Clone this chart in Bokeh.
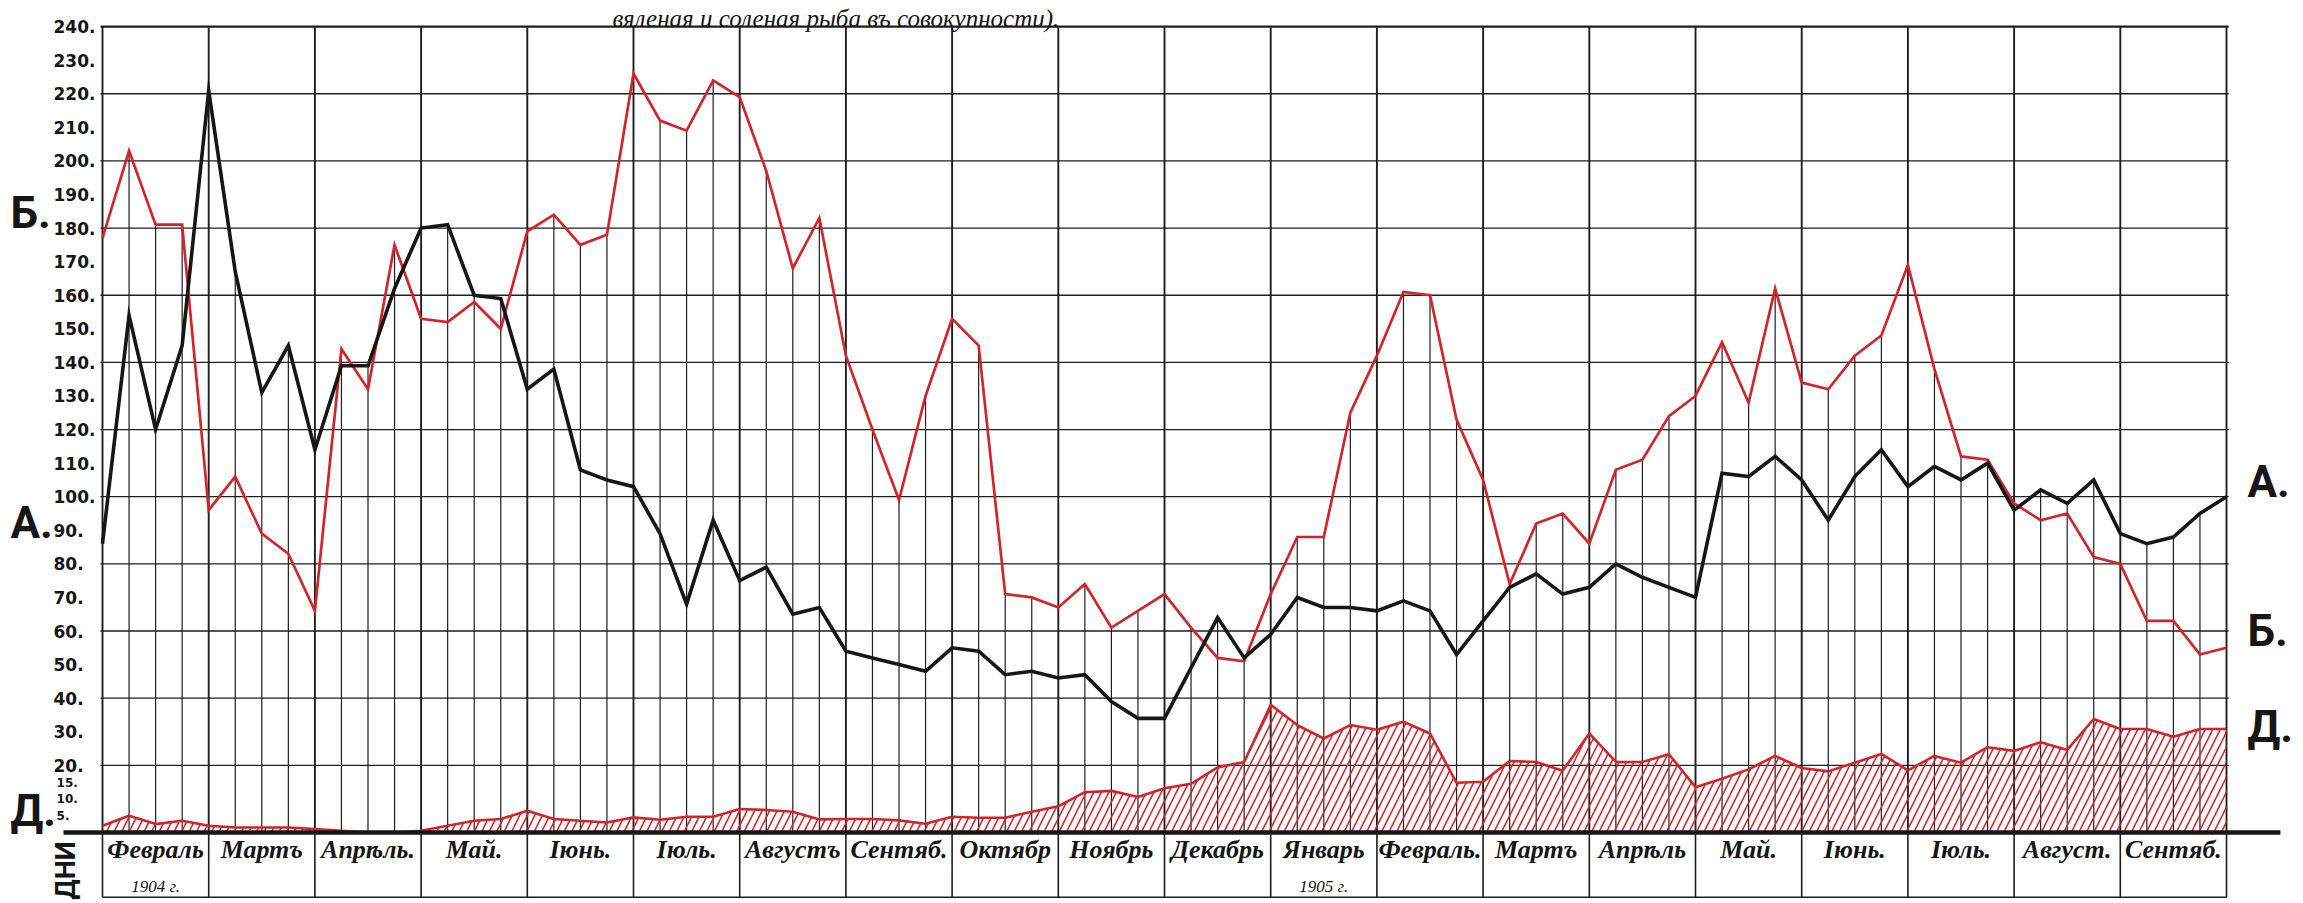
from bokeh.plotting import figure
from bokeh.models import Range1d
from bokeh.core.properties import value
from bokeh.embed import file_html
from bokeh.resources import INLINE

# ---------------- data ----------------
weeks = list(range(81))  # weekly observations, Feb 1904 .. Sep 1905

series_a = [86, 154, 120, 145, 221, 167, 131, 145, 114, 139,
            139, 162, 180, 181, 160, 159, 132, 138, 108, 105,
            103, 89, 68, 93, 75, 79, 65, 67, 54, 52,
            50, 48, 55, 54, 47, 48, 46, 47, 39, 34,
            34, 49, 64, 52, 59, 70, 67, 67, 66, 69,
            66, 53, 63, 73, 77, 71, 73, 80, 76, 73,
            70, 107, 106, 112, 105, 93, 106, 114, 103, 109,
            105, 110, 96, 102, 98, 105, 89, 86, 88, 95,
            100]

series_b = [177, 203, 181, 181, 96, 106, 89, 83, 66, 144,
            132, 175, 153, 152, 158, 150, 179, 184, 175, 178,
            226, 212, 209, 224, 219, 197, 168, 183, 142, 120,
            99, 130, 153, 145, 71, 70, 67, 74, 61, 66,
            71, 61, 52, 51, 71, 88, 88, 125, 142, 161,
            160, 123, 105, 74, 92, 95, 86, 108, 111, 124,
            130, 146, 128, 162, 134, 132, 142, 148, 169, 138,
            112, 111, 98, 93, 95, 82, 80, 63, 63, 53,
            55]

series_d = [2, 5, 2.5, 3.5, 2, 1.5, 1.5, 1.5, 1, 0.5,
            0, 0, 0.5, 2, 3.5, 4, 6.5, 4, 3.5, 3,
            4.5, 3.8, 4.7, 4.7, 7, 6.7, 6.2, 3.9, 4, 4,
            3.6, 2.6, 4.7, 4.4, 4.4, 6.2, 7.8, 12, 12.4, 10.6,
            13.2, 14.5, 19.4, 21, 38, 32, 28, 32, 30.6, 33,
            29.5, 14.8, 15.1, 21.3, 21, 18.4, 29.5, 21, 21, 23.3,
            13.5, 16, 18.8, 22.8, 19.2, 18.2, 20.8, 23.4, 18.5, 22.8,
            20.8, 25.4, 24.3, 26.9, 24.6, 33.8, 30.8, 30.8, 28.5, 30.8,
            30.8]

months = ["Февраль", "Мартъ", "Апрѣль.", "Май.", "Іюнь.", "Іюль.", "Августъ",
          "Сентяб.", "Октябр", "Ноябрь", "Декабрь", "Январь", "Февраль.",
          "Мартъ", "Апрѣль", "Май.", "Іюнь.", "Іюль.", "Август.", "Сентяб."]
year_labels = ["1904 г.", "1905 г."]
year_month_idx = [0, 11]

grid_values = [20, 40, 60, 80, 100, 120, 140, 160, 180, 200, 220]
top_value = 240
tick_values = [240, 230, 220, 210, 200, 190, 180, 170, 160, 150, 140, 130,
               120, 110, 100, 90, 80, 70, 60, 50, 40, 30, 20]
small_tick_values = [15, 10, 5]

series_names = ["А.", "Б.", "Д."]
title_text = "вяленая  и  соленая  рыба  въ  совокупности)."

# ---------------- styling ----------------
RED = "#d0262b"
BLACK = "#161616"
GRID = "#1e1e1e"
W, H = 2303, 903
WEEKS_PER_MONTH = 4
BOX_BOTTOM = -19.3

p = figure(width=W, height=H,
           x_range=Range1d(-3.8418, 82.900), y_range=Range1d(-21.144, 247.77),
           output_backend="svg", toolbar_location=None,
           x_axis_location=None, y_axis_location=None, min_border=0)
p.outline_line_color = None
for g in p.grid:
    g.visible = False
p.background_fill_color = "white"
p.border_fill_color = "white"

x_first, x_last = weeks[0], weeks[-1]

# horizontal grid
p.segment(x0=[x_first - 0.075] * len(grid_values), y0=grid_values,
          x1=[x_last + 0.08] * len(grid_values), y1=grid_values,
          line_color=GRID, line_width=1.3)
p.segment(x0=[x_first - 0.075], y0=[top_value], x1=[x_last + 0.08], y1=[top_value],
          line_color=GRID, line_width=2.2)

# month borders (full height) and weekly ordinates (up to the higher curve)
month_x = weeks[::WEEKS_PER_MONTH]
p.segment(x0=month_x, y0=[0] * len(month_x), x1=month_x, y1=[top_value] * len(month_x),
          line_color=GRID, line_width=1.9)
wk_x = [w for w in weeks if w % WEEKS_PER_MONTH != 0]
wk_top = [max(series_a[w], series_b[w]) for w in wk_x]
p.segment(x0=wk_x, y0=[0] * len(wk_x), x1=wk_x, y1=wk_top,
          line_color=GRID, line_width=1.2)

# hatched area Д
p.varea(x=weeks, y1=[0] * len(weeks), y2=series_d, fill_color=None, fill_alpha=0,
        hatch_pattern="/", hatch_color=RED, hatch_weight=1.6, hatch_scale=15)
p.line(weeks, series_d, line_color=RED, line_width=2.6)

# series Б and А
p.line(weeks, series_b, line_color=RED, line_width=2.7, line_join="miter")
p.line(weeks, series_a, line_color=BLACK, line_width=3.6, line_join="miter")

# base line and month table
p.segment(x0=[-1.469], y0=[0], x1=[82.03], y1=[0], line_color=BLACK, line_width=4.5)
p.segment(x0=[x_first], y0=[BOX_BOTTOM], x1=[x_last], y1=[BOX_BOTTOM],
          line_color=GRID, line_width=1.6)
p.segment(x0=month_x, y0=[0] * len(month_x), x1=month_x, y1=[BOX_BOTTOM] * len(month_x),
          line_color=GRID, line_width=1.6)

month_centers = [m * WEEKS_PER_MONTH + WEEKS_PER_MONTH / 2 for m in range(len(months))]
p.text(x=month_centers, y=[-5.06] * len(months), text=months,
       text_font=value("Liberation Serif"), text_font_style="bold italic",
       text_font_size="26px", text_align="center", text_baseline="middle",
       text_color=BLACK)
p.text(x=[month_centers[m] for m in year_month_idx], y=[-16.2] * len(year_labels),
       text=year_labels, text_font=value("Liberation Serif"), text_font_style="italic",
       text_font_size="17px", text_align="center", text_baseline="middle",
       text_color=BLACK)

# y tick labels (baseline on the value)
p.text(x=[-1.846] * len(tick_values), y=tick_values, text=[f"{v}." for v in tick_values],
       text_font=value("DejaVu Sans"), text_font_style="bold", text_font_size="17px",
       text_align="left", text_baseline="alphabetic", text_color=BLACK)
p.text(x=[-1.73] * len(small_tick_values), y=small_tick_values,
       text=[f"{v}." for v in small_tick_values],
       text_font=value("DejaVu Sans"), text_font_style="bold", text_font_size="12px",
       text_align="left", text_baseline="alphabetic", text_color=BLACK)

# series letters, left and right
p.text(x=[-3.465] * 3, y=[92.3, 184.6, 6.5], text=["А.", "Б.", "Д."],
       text_font=value("Roboto"), text_font_style="bold",
       text_font_size="44px", text_align="left", text_baseline="middle",
       text_color=BLACK)
p.text(x=[80.79] * 3, y=[104.5, 60.0, 31.5], text=series_names,
       text_font=value("Roboto"), text_font_style="bold",
       text_font_size="44px", text_align="left", text_baseline="middle",
       text_color=BLACK)

# "ДНИ" vertical, left of the month table
p.text(x=[-1.356], y=[-11.3], text=["ДНИ"], angle=1.5708,
       text_font=value("Roboto"), text_font_style="bold",
       text_font_size="27px", text_align="center", text_baseline="middle",
       text_color=BLACK)

# title line at the very top (only its lower part survives in the scan)
p.text(x=[28.21], y=[242.4], text=[title_text],
       text_font=value("Liberation Serif"), text_font_style="italic",
       text_font_size="25px", text_align="center", text_baseline="alphabetic",
       text_color=BLACK)

open("out.html", "w").write(file_html(p, INLINE))
